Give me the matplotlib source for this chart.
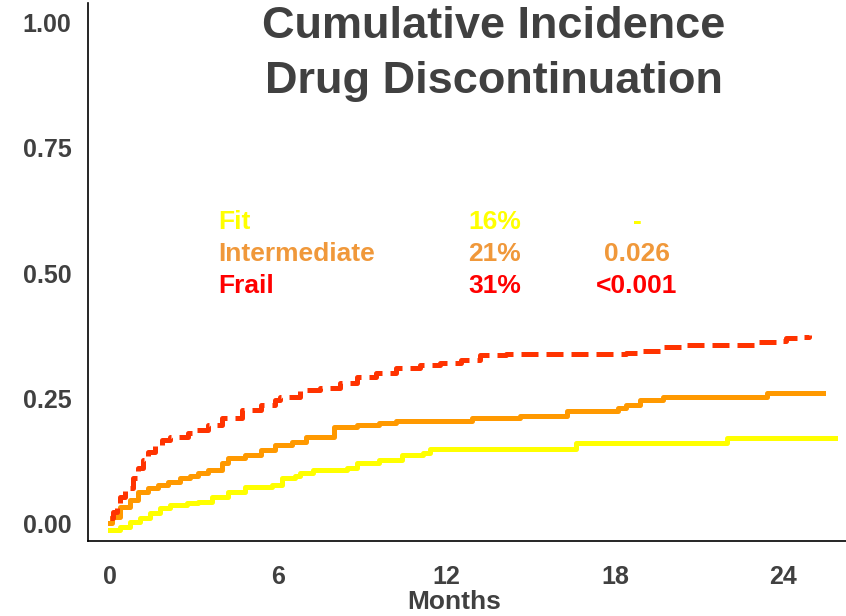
import matplotlib
matplotlib.use('Agg')
import matplotlib.pyplot as plt

plt.rcParams['font.family'] = ['Liberation Sans', 'DejaVu Sans']

# cumulative incidence curves (months, cumulative incidence)
fit_t = [0, 0.36, 0.71, 1.07, 1.43, 1.78, 2.14, 2.74, 3.14, 3.64, 4.2, 4.8, 5.77, 6.13,
         6.6, 6.77, 7.23, 8.45, 8.8, 9.6, 10.4, 11.15, 11.4, 16.6, 22.0, 25.85]
fit_v = [-0.012, -0.006, 0.004, 0.012, 0.022, 0.032, 0.038, 0.042, 0.044, 0.054, 0.064,
         0.074, 0.078, 0.092, 0.096, 0.102, 0.108, 0.112, 0.122, 0.127, 0.137, 0.141,
         0.149, 0.161, 0.171, 0.171]

inter_t = [0, 0.07, 0.36, 0.71, 1.0, 1.35, 1.71, 2.07, 2.5, 2.85, 3.14, 3.5, 4.0, 4.2,
           4.8, 5.4, 5.9, 6.5, 7.0, 8.0, 8.8, 9.6, 10.2, 12.9, 14.6, 16.3, 18.1, 18.4,
           18.9, 19.7, 23.4, 25.4]
inter_v = [0.002, 0.014, 0.034, 0.048, 0.064, 0.072, 0.078, 0.084, 0.092, 0.096, 0.102,
           0.108, 0.122, 0.131, 0.137, 0.147, 0.157, 0.163, 0.173, 0.193, 0.197, 0.201,
           0.205, 0.211, 0.215, 0.225, 0.231, 0.237, 0.247, 0.253, 0.261, 0.261]

frail_t = [0, 0.1, 0.25, 0.36, 0.53, 0.82, 1.0, 1.18, 1.35, 1.6, 1.85, 2.14, 2.78, 3.1,
           3.5, 4.0, 4.7, 5.4, 5.9, 6.06, 6.77, 7.5, 8.2, 8.8, 9.5, 10.2, 11.05, 11.76,
           12.5, 13.2, 14.1, 18.4, 19.0, 19.7, 20.4, 23.0, 23.9, 24.1, 24.6, 24.9]
frail_v = [0.012, 0.024, 0.042, 0.054, 0.072, 0.092, 0.112, 0.127, 0.143, 0.157, 0.167,
           0.173, 0.181, 0.187, 0.197, 0.211, 0.227, 0.237, 0.247, 0.253, 0.267, 0.271,
           0.281, 0.293, 0.301, 0.311, 0.317, 0.321, 0.327, 0.337, 0.339, 0.341, 0.345,
           0.353, 0.357, 0.363, 0.365, 0.371, 0.373, 0.377]

groups = ['Fit', 'Intermediate', 'Frail']
incidence = ['16%', '21%', '31%']
pvalues = ['-', '0.026', '<0.001']
text_colors = ['#FFFF00', '#F0983A', '#FF0000']

xticks = [0, 6, 12, 18, 24]
yticks = [0.0, 0.25, 0.5, 0.75, 1.0]

fig = plt.figure(figsize=(8.46, 6.16), dpi=100)
ax = fig.add_axes([88 / 846, 75 / 616, 758 / 846, 538 / 616])

ax.plot(fit_t, fit_v, drawstyle='steps-post', color='#FFFF00', lw=3.6)
ax.plot(inter_t, inter_v, drawstyle='steps-post', color='#FF9900', lw=3.6)
ax.plot(frail_t, frail_v, drawstyle='steps-post', color='#FF3300', lw=3.6,
        dashes=(3.4, 1.6))

ax.set_xlim(-0.78, 26.23)
ax.set_ylim(-0.034, 1.038)
ax.set_xticks(xticks)
ax.set_yticks(yticks)
ax.set_yticklabels(['%.2f' % v for v in yticks], fontweight='bold')
ax.set_xticklabels([str(v) for v in xticks], fontweight='bold')
ax.tick_params(length=0, labelsize=18, labelcolor='#404040')
ax.tick_params(axis='x', pad=17)
ax.tick_params(axis='y', pad=12)
ax.set_xlabel('Months', fontsize=19, fontweight='bold', color='#404040')
ax.xaxis.set_label_coords(0.483, -0.113, transform=ax.transAxes)
ax.xaxis.label.set_va('center')

for side in ['top', 'right']:
    ax.spines[side].set_visible(False)
for side in ['left', 'bottom']:
    ax.spines[side].set_linewidth(1.2)
    ax.spines[side].set_color('black')

# table of groups, incidence at 24 months and p-values
for i in range(3):
    y = 0.602 - i * 0.064
    ax.text(3.85, y, groups[i], color=text_colors[i], fontsize=19, fontweight='bold',
            va='center', ha='left')
    ax.text(12.76, y, incidence[i], color=text_colors[i], fontsize=19, fontweight='bold',
            va='center', ha='left')
    ax.text(18.78, y, pvalues[i], color=text_colors[i], fontsize=19, fontweight='bold',
            va='center', ha='center')

fig.text(494 / 846, 1 - 54 / 616, 'Cumulative Incidence\nDrug Discontinuation',
         fontsize=32.5, fontweight='bold', color='#404040', ha='center', va='center',
         linespacing=1.41)

fig.savefig('out.png', dpi=100)
